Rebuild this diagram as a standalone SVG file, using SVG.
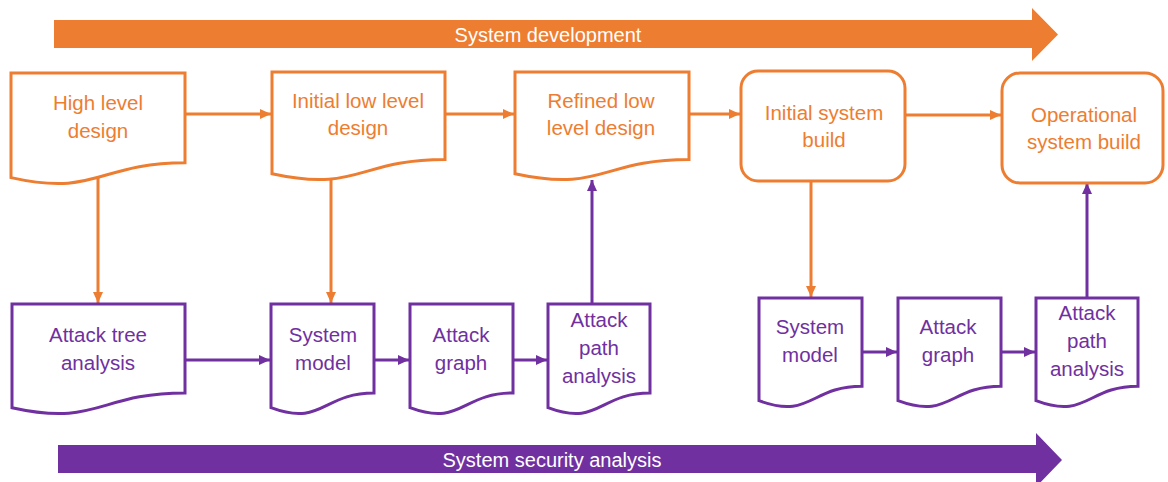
<svg xmlns="http://www.w3.org/2000/svg" width="1168" height="482" viewBox="0 0 1168 482">
<defs>
<style>
.o{fill:#fff;stroke:#ED7D31;stroke-width:3}
.p{fill:#fff;stroke:#7030A0;stroke-width:3}
.to{fill:#ED7D31;font-family:"Liberation Sans",Arial,sans-serif;font-size:20.5px;text-anchor:middle}
.tp{fill:#7030A0;font-family:"Liberation Sans",Arial,sans-serif;font-size:20.5px;text-anchor:middle}
.tw{fill:#fff;font-family:"Liberation Sans",Arial,sans-serif;font-size:20px;text-anchor:middle}
.co{stroke:#ED7D31;stroke-width:3;fill:none;marker-end:url(#ao)}
.cp{stroke:#7030A0;stroke-width:3;fill:none;marker-end:url(#ap)}
</style>
<marker id="ao" markerUnits="userSpaceOnUse" markerWidth="12" markerHeight="12" viewBox="0 0 12 12" refX="11" refY="6" orient="auto"><path d="M0,1 L11,6 L0,11 Z" fill="#ED7D31"/></marker>
<marker id="ap" markerUnits="userSpaceOnUse" markerWidth="12" markerHeight="12" viewBox="0 0 12 12" refX="11" refY="6" orient="auto"><path d="M0,1 L11,6 L0,11 Z" fill="#7030A0"/></marker>
</defs>
<g id="band-dev">
<polygon points="54,20 1032,20 1032,8 1058,34.5 1032,61 1032,48 54,48" fill="#ED7D31"/>
<text class="tw" x="548" y="41.5">System development</text>
</g>
<g id="band-sec">
<polygon points="58,445 1036,445 1036,433 1062,460 1036,487 1036,473 58,473" fill="#7030A0"/>
<text class="tw" x="552" y="466.5">System security analysis</text>
</g>
<g id="connectors">
<line class="co" x1="185" y1="114" x2="271" y2="114"/>
<line class="co" x1="445" y1="114" x2="514" y2="114"/>
<line class="co" x1="689" y1="114" x2="740" y2="114"/>
<line class="co" x1="905" y1="115" x2="1001" y2="115"/>
<line class="co" x1="98" y1="178" x2="98" y2="303"/>
<line class="co" x1="331" y1="179" x2="331" y2="303"/>
<line class="co" x1="811" y1="181" x2="811" y2="297"/>
<line class="cp" x1="592" y1="304" x2="592" y2="180"/>
<line class="cp" x1="1087" y1="298" x2="1087" y2="183"/>
<line class="cp" x1="185" y1="360" x2="270" y2="360"/>
<line class="cp" x1="374" y1="360" x2="409" y2="360"/>
<line class="cp" x1="513" y1="360" x2="547" y2="360"/>
<line class="cp" x1="862" y1="352" x2="897" y2="352"/>
<line class="cp" x1="1001" y1="352" x2="1035" y2="352"/>
</g>
<g id="high-level-design">
<path class="o" d="M11 73 H185 V162.8 C98 162.8 98 197 11 177.6 Z"/>
<text class="to" x="98" y="110">High level</text>
<text class="to" x="98" y="138">design</text>
</g>
<g id="initial-low-level-design">
<path class="o" d="M272 72 H445 V159.4 C358.5 159.4 358.5 192.7 272 173.8 Z"/>
<text class="to" x="358" y="108">Initial low level</text>
<text class="to" x="358" y="135">design</text>
</g>
<g id="refined-low-level-design">
<path class="o" d="M515 72 H689 V159.4 C602 159.4 602 192.7 515 173.8 Z"/>
<text class="to" x="601" y="108">Refined low</text>
<text class="to" x="601" y="135">level design</text>
</g>
<g id="initial-system-build">
<rect class="o" x="741" y="71" width="164" height="110" rx="17"/>
<text class="to" x="824" y="120">Initial system</text>
<text class="to" x="824" y="147">build</text>
</g>
<g id="operational-system-build">
<rect class="o" x="1002" y="73" width="161" height="110" rx="18"/>
<text class="to" x="1084" y="122">Operational</text>
<text class="to" x="1084" y="149">system build</text>
</g>
<g id="attack-tree-analysis">
<path class="p" d="M12 304 H185 V393 C98.5 393 98.5 426.9 12 407.7 Z"/>
<text class="tp" x="98" y="342">Attack tree</text>
<text class="tp" x="98" y="370">analysis</text>
</g>
<g id="system-model-1">
<path class="p" d="M271 304 H374 V393 C322.5 393 322.5 426.9 271 407.7 Z"/>
<text class="tp" x="323" y="342">System</text>
<text class="tp" x="323" y="370">model</text>
</g>
<g id="attack-graph-1">
<path class="p" d="M410 304 H513 V393 C461.5 393 461.5 426.9 410 407.7 Z"/>
<text class="tp" x="461" y="342">Attack</text>
<text class="tp" x="461" y="370">graph</text>
</g>
<g id="attack-path-analysis-1">
<path class="p" d="M548 304 H650 V393 C599 393 599 426.9 548 407.7 Z"/>
<text class="tp" x="599" y="327">Attack</text>
<text class="tp" x="599" y="355">path</text>
<text class="tp" x="599" y="383">analysis</text>
</g>
<g id="system-model-2">
<path class="p" d="M759 298 H862 V386.2 C810.5 386.2 810.5 419.8 759 400.7 Z"/>
<text class="tp" x="810" y="334">System</text>
<text class="tp" x="810" y="362">model</text>
</g>
<g id="attack-graph-2">
<path class="p" d="M898 298 H1001 V386.2 C949.5 386.2 949.5 419.8 898 400.7 Z"/>
<text class="tp" x="948" y="334">Attack</text>
<text class="tp" x="948" y="362">graph</text>
</g>
<g id="attack-path-analysis-2">
<path class="p" d="M1036 298 H1138 V386.2 C1087 386.2 1087 419.8 1036 400.7 Z"/>
<text class="tp" x="1087" y="320">Attack</text>
<text class="tp" x="1087" y="348">path</text>
<text class="tp" x="1087" y="376">analysis</text>
</g>
</svg>
